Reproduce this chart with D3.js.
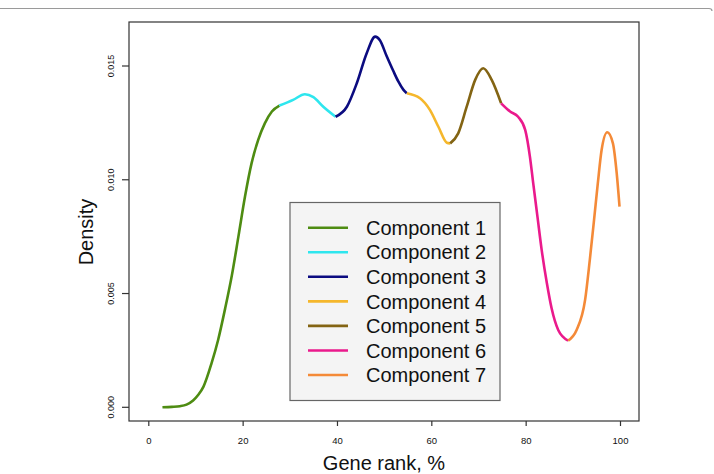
<!DOCTYPE html>
<html><head><meta charset="utf-8">
<script src="https://cdn.jsdelivr.net/npm/d3@7"></script>
<style>
html,body{margin:0;padding:0;background:#fff;}
svg{display:block;font-family:"Liberation Sans",Arial,Helvetica,sans-serif;}
</style></head>
<body>
<script>
// ---- data ----
const componentNames = ["Component 1","Component 2","Component 3","Component 4","Component 5","Component 6","Component 7"];
const componentColors = ["#4e8c12","#2ee6ee","#0b0b80","#f5b72c","#836413","#ea1a8c","#f48a38"];
const comp1X = [3.0, 5.0, 6.7, 8.1, 9.5, 10.6, 11.7, 13.4, 14.8, 16.3, 17.7, 19.1, 20.5, 21.9, 23.3, 24.7, 26.2, 27.8];
const comp1Y = [0.0, 0.00002, 0.00005, 0.00012, 0.0003, 0.00055, 0.00091, 0.00193, 0.00296, 0.00435, 0.00578, 0.0075, 0.00926, 0.01073, 0.01175, 0.01248, 0.013, 0.01326];
const comp2X = [27.8, 30.7, 33.2, 35.0, 37.1, 39.7];
const comp2Y = [0.01326, 0.01351, 0.01376, 0.01363, 0.01321, 0.01277];
const comp3X = [39.7, 42.1, 44.2, 46.3, 48.1, 49.1, 50.5, 51.9, 53.0, 54.1, 54.8];
const comp3Y = [0.01277, 0.01321, 0.01424, 0.01556, 0.01629, 0.01613, 0.01545, 0.0148, 0.01432, 0.01395, 0.0138];
const comp4X = [54.8, 57.6, 59.7, 61.5, 63.3, 64.0];
const comp4Y = [0.0138, 0.01358, 0.01307, 0.01233, 0.01163, 0.0116];
const comp5X = [64.0, 65.7, 67.5, 69.3, 71.0, 72.8, 74.8];
const comp5Y = [0.0116, 0.01204, 0.01321, 0.01439, 0.0149, 0.01439, 0.01336];
const comp6X = [74.8, 76.7, 78.4, 79.9, 80.9, 81.6, 82.5, 83.4, 84.5, 85.5, 86.9, 89.0];
const comp6Y = [0.01336, 0.013, 0.01277, 0.01219, 0.01102, 0.00985, 0.00838, 0.00691, 0.00545, 0.00435, 0.0034, 0.00293];
const comp7X = [89.0, 90.8, 92.6, 93.6, 94.5, 95.3, 96.1, 97.3, 98.5, 99.3, 99.9];
const comp7Y = [0.00293, 0.0034, 0.00472, 0.00648, 0.00824, 0.00985, 0.01131, 0.01209, 0.0116, 0.01029, 0.00882];
const xTicks = [0, 20, 40, 60, 80, 100];
const yTicks = [0.000, 0.005, 0.010, 0.015];
const xTitle = "Gene rank, %";
const yTitle = "Density";

const seriesX = [comp1X, comp2X, comp3X, comp4X, comp5X, comp6X, comp7X];
const seriesY = [comp1Y, comp2Y, comp3Y, comp4Y, comp5Y, comp6Y, comp7Y];

// ---- layout ----
const W = 714, H = 474;
const box = {left:129, top:22, right:639, bottom:421};
const x = d3.scaleLinear().domain([0,100]).range([148.3, 620]);
const y = d3.scaleLinear().domain([0,0.015]).range([407.3, 66]);

const svg = d3.select("body").append("svg").attr("width", W).attr("height", H);

// top frame line
svg.append("path")
  .attr("d", `M0,8.5 L709,8.5 Q712,8.5 712,11`)
  .attr("fill","none").attr("stroke","#9a9a9a").attr("stroke-width",1.2);

// plot box
svg.append("rect")
  .attr("x", box.left).attr("y", box.top)
  .attr("width", box.right-box.left).attr("height", box.bottom-box.top)
  .attr("fill","none").attr("stroke","#333").attr("stroke-width",1.2);

// x axis
const xAxis = svg.append("g").attr("transform",`translate(0,${box.bottom})`)
  .call(d3.axisBottom(x).tickValues(xTicks).tickSize(5).tickPadding(11).tickFormat(d3.format("d")));
xAxis.select(".domain").remove();
xAxis.selectAll("line").attr("stroke","#333").attr("stroke-width",1.2);
xAxis.selectAll("text").attr("font-size","9.5px").attr("fill","#111")
  .attr("font-family",'"Liberation Sans",Arial,sans-serif');

// y axis
const yAxis = svg.append("g").attr("transform",`translate(${box.left},0)`)
  .call(d3.axisLeft(y).tickValues(yTicks).tickSize(7).tickFormat(d3.format(".3f")));
yAxis.select(".domain").remove();
yAxis.selectAll("line").attr("stroke","#333").attr("stroke-width",1.2);
yAxis.selectAll("text")
  .attr("font-size","9px").attr("fill","#111")
  .attr("font-family",'"Liberation Sans",Arial,sans-serif')
  .attr("transform", function(d){ return `rotate(-90, ${-18}, ${y(d)})`; })
  .attr("x", -18).attr("y", d => y(d)).attr("dy","0.35em")
  .attr("text-anchor","middle");
yAxis.selectAll(".tick").attr("transform", null);
yAxis.selectAll(".tick line").attr("y1", d=>y(d)).attr("y2", d=>y(d));

// axis titles
svg.append("text").attr("x", 384).attr("y", 470)
  .attr("text-anchor","middle").attr("font-size","20px").attr("fill","#111").text(xTitle);
svg.append("text").attr("transform","translate(93,232) rotate(-90)")
  .attr("text-anchor","middle").attr("font-size","20px").attr("fill","#111").text(yTitle);

// curves
const line = d3.line().curve(d3.curveMonotoneX).x(d=>x(d[0])).y(d=>y(d[1]));
seriesX.forEach((xs, i) => {
  const pts = xs.map((v, j) => [v, seriesY[i][j]]);
  svg.append("path").datum(pts).attr("d", line)
    .attr("fill","none").attr("stroke", componentColors[i])
    .attr("stroke-width", 2.6).attr("stroke-linecap","butt").attr("stroke-linejoin","round");
});

// legend
const lg = svg.append("g");
lg.append("rect").attr("x",290).attr("y",202.5).attr("width",210).attr("height",198)
  .attr("fill","#f4f4f4").attr("stroke","#666").attr("stroke-width",1.2);
componentNames.forEach((name, i) => {
  const yy = 227.7 + i*24.55;
  lg.append("line").attr("x1",308).attr("x2",348).attr("y1",yy).attr("y2",yy)
    .attr("stroke", componentColors[i]).attr("stroke-width",2.6);
  lg.append("text").attr("x",366).attr("y",yy).attr("dy","0.36em")
    .attr("font-size","20px").attr("fill","#111").text(name);
});
</script>
</body></html>
